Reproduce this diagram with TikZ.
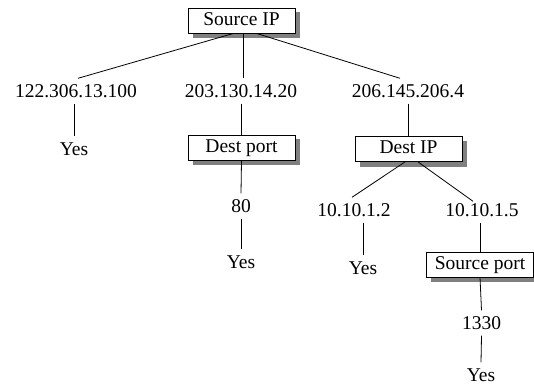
\documentclass[tikz,border=0pt]{standalone}
\usepackage{fontspec}
\setmainfont{Liberation Serif}
\begin{document}
\begin{tikzpicture}[x=1pt,y=-1pt,
  every node/.style={font=\fontsize{19.5}{23}\selectfont},
  lbl/.style={inner xsep=0pt,inner ysep=6pt,text height=13pt,text depth=0pt},
  field/.style={draw,line width=0.8pt,fill=white,minimum width=107pt,minimum height=25pt,inner sep=0pt,
    text height=13pt,text depth=4pt},
  link/.style={line width=0.8pt}]
\useasboundingbox (0,0) rectangle (534,388);
% decision nodes
\node[field] (srcip) at (241.5,20.5) {Source IP};
\node[field] (dport) at (241.5,147.5) {Dest port};
\node[field] (dip) at (408.5,149) {Dest IP};
\node[field] (sport) at (480,264.5) {Source port};
% drop shadows: a grey L along the right and bottom edge of each box
\foreach \b in {srcip,dport,dip,sport}{
  \draw[black!50,line width=4.5pt,line cap=butt,line join=miter]
    ([xshift=2.7pt,yshift=-4.5pt]\b.north east) --
    ([xshift=2.7pt,yshift=-2.65pt]\b.south east) --
    ([xshift=5pt,yshift=-2.65pt]\b.south west);
}
% values and outcomes
\node[lbl] (ip1) at (76,91) {122.306.13.100};
\node[lbl] (ip2) at (241,91) {203.130.14.20};
\node[lbl] (ip3) at (408,91) {206.145.206.4};
\node[lbl] (yes1) at (74,148.5) {Yes};
\node[lbl] (p80) at (241,206) {80};
\node[lbl] (yes2) at (241,262) {Yes};
\node[lbl] (ip4) at (354,210) {10.10.1.2};
\node[lbl] (ip5) at (482,210) {10.10.1.5};
\node[lbl] (yes3) at (363,268) {Yes};
\node[lbl] (n1330) at (481.5,323) {1330};
\node[lbl] (yes4) at (481,375) {Yes};
% branches
\draw[link] ([xshift=-8pt]srcip.south) -- ([xshift=2pt]ip1.north);
\draw[link] ([xshift=1.5pt]srcip.south) -- ([xshift=2pt]ip2.north);
\draw[link] ([xshift=15pt]srcip.south) -- ([xshift=-8pt]ip3.north);
\draw[link] (yes1.north) -- (yes1.north |- ip1.south);
\draw[link] (ip2.south) -- (ip2.south |- dport.north);
\draw[link] (dport.south) -- (p80.north);
\draw[link] (p80.south) -- (yes2.north);
\draw[link] (ip3.south) -- (ip3.south |- dip.north);
\draw[link] ([xshift=-3.5pt]dip.south) -- ([xshift=-2pt]ip4.north);
\draw[link] ([xshift=9.5pt]dip.south) -- ([xshift=-9pt,yshift=-4pt]ip5.north);
\draw[link] (yes3.north) -- (yes3.north |- ip4.south);
\draw[link] (sport.north) -- (sport.north |- ip5.south);
\draw[link] (sport.south) -- (n1330.north);
\draw[link] (n1330.south) -- (yes4.north);
\end{tikzpicture}
\end{document}
